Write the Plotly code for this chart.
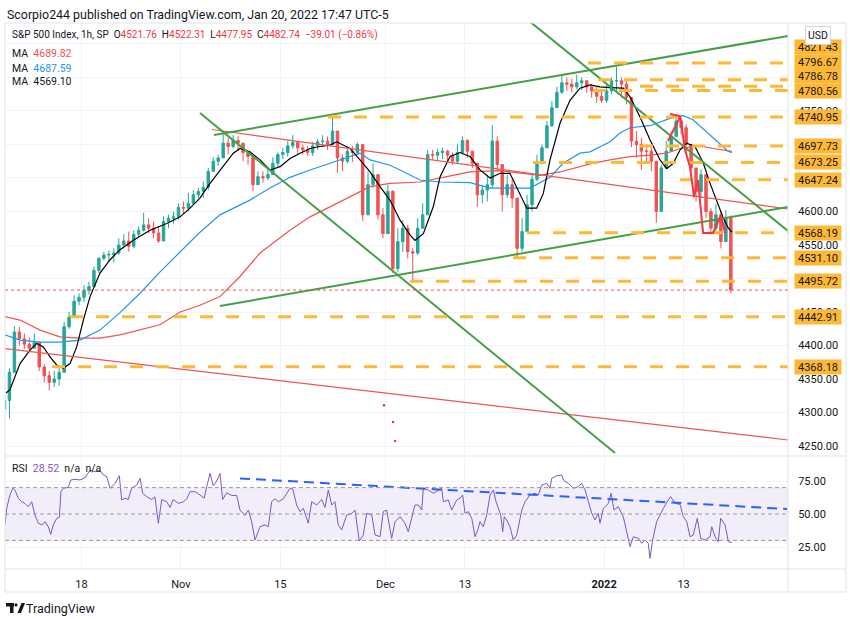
import plotly.graph_objects as go

# ---------------- data ----------------
oct_days = [6, 7, 8, 11, 12, 13, 14, 15, 18, 19, 20, 21, 22, 25, 26, 27, 28, 29]
nov_days = [1, 2, 3, 4, 5, 8, 9, 10, 11, 12, 15, 16, 17, 18, 19, 22, 23, 24, 26, 29, 30]
dec_days = [1, 2, 3, 6, 7, 8, 9, 10, 13, 14, 15, 16, 17, 20, 21, 22, 23, 27, 28, 29, 30, 31]
jan_days = [3, 4, 5, 6, 7, 10, 11, 12, 13, 14, 18, 19, 20]
short_sessions = ["2021-11-26"]          # 4 hourly bars, one candle

first_open = 4305
# two candles per session (one for the short session)
closes = [4318, 4360, 4420, 4410, 4402, 4396, 4405, 4368, 4355, 4345,
          4350, 4360, 4428, 4442, 4466, 4472, 4482, 4488, 4512, 4530,
          4535, 4536, 4538, 4550, 4556, 4548, 4566, 4572, 4580, 4575,
          4568, 4556, 4585, 4590, 4592, 4606, 4605, 4612, 4625, 4630,
          4636, 4660, 4675, 4680, 4702, 4697, 4706, 4702, 4688, 4682,
          4640, 4652, 4650, 4655, 4672, 4685, 4688, 4698, 4703, 4695,
          4692, 4688, 4698, 4704, 4705, 4700, 4720, 4680, 4675, 4690,
          4688, 4700, 4595, 4640, 4655, 4595, 4567, 4630, 4515,
          4555, 4575, 4540, 4538, 4575, 4595, 4685, 4684, 4688, 4690,
          4684, 4675, 4688, 4706, 4690, 4672, 4625, 4632, 4640, 4705,
          4670, 4625, 4640, 4620, 4545, 4570, 4610, 4648, 4675, 4695,
          4728, 4755, 4778, 4792, 4790, 4786, 4792, 4795, 4786, 4780,
          4772, 4766, 4780, 4795, 4795, 4790, 4770, 4705, 4700, 4690,
          4690, 4675, 4600, 4665, 4690, 4712, 4735, 4725, 4700, 4665,
          4630, 4655, 4600, 4575, 4595, 4555, 4590, 4482.74]
highs = [4335, 4366, 4429, 4428, 4418, 4412, 4418, 4400, 4372, 4362,
         4362, 4368, 4435, 4450, 4475, 4478, 4490, 4495, 4518, 4532,
         4540, 4542, 4545, 4560, 4566, 4570, 4572, 4578, 4598, 4590,
         4585, 4578, 4593, 4595, 4600, 4612, 4615, 4628, 4632, 4635,
         4645, 4665, 4681, 4685, 4718, 4710, 4714, 4712, 4702, 4690,
         4680, 4660, 4660, 4665, 4681, 4688, 4695, 4705, 4714, 4705,
         4700, 4698, 4704, 4708, 4714, 4712, 4742, 4712, 4685, 4697,
         4698, 4703, 4664, 4660, 4672, 4645, 4605, 4640, 4632,
         4575, 4587, 4580, 4545, 4590, 4612, 4692, 4692, 4694, 4695,
         4692, 4688, 4700, 4712, 4708, 4690, 4665, 4640, 4655, 4729,
         4712, 4665, 4655, 4648, 4585, 4590, 4625, 4655, 4685, 4700,
         4735, 4765, 4786, 4804, 4800, 4798, 4804, 4800, 4796, 4790,
         4786, 4780, 4790, 4800, 4816, 4800, 4796, 4770, 4720, 4710,
         4700, 4695, 4650, 4670, 4705, 4720, 4745, 4740, 4730, 4700,
         4665, 4663, 4655, 4605, 4611, 4600, 4602, 4594]
lows = [4300, 4291, 4360, 4400, 4395, 4390, 4395, 4362, 4345, 4333,
        4338, 4340, 4395, 4425, 4448, 4460, 4465, 4476, 4490, 4508,
        4527, 4525, 4524, 4535, 4545, 4540, 4545, 4562, 4570, 4568,
        4560, 4553, 4565, 4575, 4582, 4588, 4596, 4600, 4610, 4620,
        4620, 4632, 4662, 4668, 4681, 4685, 4695, 4690, 4675, 4670,
        4630, 4640, 4643, 4647, 4655, 4666, 4678, 4682, 4694, 4686,
        4685, 4683, 4683, 4692, 4696, 4692, 4705, 4658, 4660, 4672,
        4674, 4685, 4586, 4620, 4635, 4588, 4560, 4580, 4508,
        4510, 4540, 4530, 4493, 4535, 4580, 4660, 4677, 4676, 4678,
        4675, 4670, 4672, 4685, 4680, 4665, 4607, 4612, 4615, 4635,
        4660, 4600, 4620, 4605, 4531, 4540, 4575, 4600, 4645, 4670,
        4695, 4726, 4755, 4775, 4780, 4778, 4782, 4781, 4777, 4770,
        4762, 4762, 4762, 4775, 4780, 4770, 4760, 4696, 4680, 4662,
        4675, 4660, 4583, 4600, 4665, 4690, 4712, 4715, 4685, 4660,
        4615, 4620, 4590, 4568, 4570, 4545, 4555, 4477.95]

# moving averages: (hourly bar index, value)
ma_red = [(2, 4443), (12.7, 4438), (26.8, 4423), (40.8, 4413), (54.9, 4411), (69, 4411),
          (83.1, 4416), (97.2, 4423), (111.3, 4431), (125.4, 4450), (139.4, 4460),
          (153.5, 4473), (167.6, 4503), (181.7, 4538), (202.8, 4572), (216.9, 4592),
          (231, 4607), (245.1, 4622), (259.2, 4637), (273.2, 4642), (294.4, 4644),
          (313.2, 4652), (329.6, 4659), (350.7, 4661), (364.8, 4657), (378.9, 4654),
          (393, 4659), (407, 4667), (414.1, 4671), (428.2, 4677), (442.3, 4682),
          (456.3, 4684), (468.1, 4687), (477.5, 4694), (491.5, 4698), (500.9, 4694),
          (511.5, 4690), (514, 4689.82)]
ma_blue = [(2, 4416), (12.7, 4408), (26.8, 4405), (40.8, 4405), (54.9, 4408), (69, 4423),
           (83.1, 4449), (97.2, 4478), (111.3, 4510), (125.4, 4540), (139.4, 4569),
           (153.5, 4595), (174.6, 4617), (188.7, 4635), (202.8, 4651), (216.9, 4662),
           (231, 4672), (245.1, 4683), (252.1, 4687), (259.2, 4677), (273.2, 4669),
           (280.3, 4662), (294.4, 4647), (308.5, 4644), (329.6, 4643), (343.7, 4635),
           (371.8, 4635), (385.9, 4651), (395.1, 4672), (407, 4687), (414.1, 4689),
           (428.2, 4704), (435.2, 4717), (442.3, 4725), (456.3, 4728), (470.4, 4739),
           (479.6, 4743), (486.6, 4737), (498.6, 4714), (511.3, 4690), (514, 4687.59)]
ma_black = [(2.8, 4329), (5.6, 4334), (12.7, 4373), (19.7, 4393), (24.4, 4403), (29.1, 4398),
            (33.8, 4383), (38.5, 4371), (43.2, 4366), (47.9, 4373), (52.6, 4398), (57.3, 4438),
            (62, 4473), (69, 4508), (76.1, 4528), (83.1, 4543), (92.5, 4557), (104.2, 4572),
            (116, 4582), (125.4, 4592), (132.4, 4605), (139.4, 4620), (146.5, 4642),
            (155.8, 4667), (162.9, 4687), (167.6, 4694), (174.6, 4689), (181.7, 4677),
            (188.7, 4662), (195.8, 4667), (202.8, 4679), (209.9, 4687), (216.9, 4694),
            (223.9, 4697), (231, 4699), (235.7, 4704), (245.1, 4694), (252.1, 4677),
            (259.2, 4659), (266.2, 4637), (273.2, 4617), (280.3, 4587), (287.3, 4565),
            (290.8, 4557), (296.7, 4567), (303.7, 4607), (308.5, 4652), (315.5, 4682),
            (322.5, 4688), (329.6, 4682), (336.6, 4662), (343.7, 4650), (350.7, 4657),
            (357.7, 4657), (364.8, 4627), (369.5, 4605), (376.5, 4605), (381.2, 4627),
            (385.9, 4677), (393, 4732), (400, 4766), (407, 4784), (414.1, 4789),
            (421.1, 4786), (428.2, 4785), (437.5, 4784), (442.3, 4771), (449.3, 4741),
            (456.3, 4707), (463.4, 4677), (468.1, 4664), (472.7, 4672), (477.5, 4692),
            (482.2, 4702), (488, 4697), (493.9, 4672), (498.6, 4642), (503.3, 4617),
            (508, 4590), (511.5, 4575), (514, 4569.10)]

rsi = [(2.1, 41.7), (3.3, 54.3), (5.6, 64.4), (7.5, 69.5), (9.2, 68.0), (11.5, 61.9),
       (13.9, 59.3), (16.2, 58.0), (18.5, 55.5), (20.9, 59.3), (23.2, 49.2), (25.6, 43.0),
       (28.0, 41.7), (30.3, 44.2), (32.6, 40.4), (34.3, 34.6), (36.1, 41.7), (38.5, 46.7),
       (40.4, 47.5), (41.5, 66.9), (43.2, 69.5), (46.7, 70.2), (48.4, 75.8), (51.4, 76.3),
       (54.9, 75.8), (58.5, 77.5), (62.0, 83.3), (65.5, 82.0), (69.0, 83.0), (71.3, 79.5),
       (73.7, 78.4), (76.1, 69.5), (79.6, 73.2), (82.6, 79.0), (84.3, 60.6), (86.6, 62.0),
       (88.9, 61.0), (91.3, 69.5), (94.9, 72.0), (97.2, 77.0), (99.1, 65.7), (101.9, 63.1),
       (105.4, 61.0), (107.7, 63.0), (110.1, 43.0), (112.5, 61.0), (116.0, 59.3), (118.3, 55.0),
       (120.6, 61.0), (124.2, 58.0), (127.7, 59.3), (130.1, 61.5), (132.4, 66.9), (135.9, 66.9),
       (139.4, 64.4), (142.3, 62.0), (144.2, 70.7), (146.5, 80.8), (148.8, 71.4), (151.2, 75.0),
       (153.5, 80.8), (155.4, 61.0), (158.2, 66.0), (161.8, 64.0), (165.3, 64.0), (167.6, 53.0),
       (171.1, 49.0), (173.5, 53.0), (175.8, 44.2), (178.2, 30.3), (181.7, 40.4), (185.2, 41.7),
       (187.5, 40.4), (189.9, 59.3), (192.3, 61.5), (194.6, 59.3), (198.1, 61.5), (200.5, 65.2),
       (202.8, 69.5), (204.7, 69.0), (207.5, 56.8), (209.9, 51.8), (212.2, 54.3), (215.7, 43.0),
       (218.1, 59.3), (221.6, 56.8), (225.1, 61.0), (227.5, 55.0), (229.8, 68.2), (232.2, 56.8),
       (234.5, 59.3), (236.8, 41.7), (239.2, 37.9), (242.7, 49.2), (246.3, 50.5), (248.6, 53.0),
       (251.6, 29.5), (254.4, 34.1), (256.8, 50.5), (260.4, 49.2), (262.7, 34.1), (266.2, 32.9),
       (268.5, 51.8), (270.9, 53.0), (274.4, 31.6), (276.8, 44.2), (280.3, 48.0), (283.8, 43.0),
       (286.1, 36.6), (289.6, 51.8), (290.8, 56.8), (293.2, 56.8), (295.6, 53.0), (296.7, 69.5),
       (300.2, 68.2), (303.7, 65.7), (307.3, 68.2), (309.6, 69.5), (310.8, 59.3), (314.3, 60.6),
       (316.7, 53.0), (320.2, 60.6), (322.5, 62.0), (324.4, 64.4), (326.1, 50.5), (328.4, 51.8),
       (330.8, 46.7), (333.1, 32.8), (335.4, 39.1), (336.6, 44.2), (338.9, 40.4), (341.3, 49.2),
       (343.7, 64.4), (346.0, 68.2), (347.9, 59.3), (349.5, 54.3), (351.2, 49.2), (352.6, 36.6),
       (353.7, 48.0), (355.4, 45.5), (357.7, 40.4), (360.1, 30.3), (362.5, 34.1), (366.0, 53.0),
       (368.3, 59.3), (371.8, 64.4), (375.4, 65.7), (377.7, 64.4), (380.1, 72.0), (383.6, 73.2),
       (385.9, 69.5), (387.1, 77.0), (390.6, 79.0), (394.2, 79.5), (395.3, 75.8), (398.8, 73.2),
       (402.3, 69.5), (405.8, 70.7), (408.2, 73.2), (410.6, 68.2), (412.9, 59.3), (415.3, 50.5),
       (417.6, 45.5), (419.9, 50.5), (421.1, 43.0), (423.5, 54.3), (427.0, 58.0), (428.9, 65.7),
       (431.0, 53.0), (434.0, 55.5), (437.5, 48.0), (439.9, 36.6), (442.3, 25.3), (444.6, 32.8),
       (448.1, 31.6), (450.5, 27.8), (452.8, 30.3), (455.1, 27.8), (456.3, 16.4), (458.2, 30.3),
       (461.0, 44.2), (463.4, 49.2), (465.7, 54.3), (469.2, 60.6), (470.9, 63.1), (474.0, 58.0),
       (477.5, 57.3), (479.8, 48.0), (482.2, 44.2), (484.5, 32.8), (486.8, 34.1), (489.6, 46.7),
       (492.0, 31.6), (495.1, 30.3), (498.6, 32.8), (499.8, 40.4), (502.1, 32.8), (504.4, 29.0),
       (506.1, 46.7), (509.2, 41.7), (511.5, 29.0), (514.0, 28.52)]

# legend values
last_ohlc = [4521.76, 4522.31, 4477.95, 4482.74]
last_change = [-39.01, -0.86]
ma_last = [4689.82, 4687.59, 4569.10]
rsi_last = 28.52

# horizontal levels: (price, start bar index)
levels = [(4821.43, 412.7), (4796.67, 419.7), (4786.78, 449.3), (4780.56, 416.2),
          (4740.95, 229.6), (4697.73, 449.3), (4673.25, 373.9), (4647.24, 477.5),
          (4568.19, 369.7), (4531.10, 359.9), (4495.72, 287.3), (4442.91, 47.9),
          (4368.18, 35.2)]

# drawings (bar index, price)
green_lines = [[(149.3, 4714.2), (553.5, 4861.9)], [(153.5, 4459.0), (553.5, 4606.7)],
               [(139.4, 4747.0), (431.7, 4239.6)], [(372.5, 4882.2), (553.5, 4570.9)]]
red_lines = [[(147.9, 4722.4), (553.5, 4603.7)], [(-1.4, 4396.3), (553.5, 4259.0)]]
red_paths = [[(470.4, 4745.5), (477.5, 4742.5), (481.0, 4691.8), (484.5, 4666.4),
              (487.3, 4621.6), (490.1, 4647.0), (493.7, 4567.9), (500.7, 4567.9),
              (506.3, 4594.8), (509.2, 4567.9)],
             [(469.0, 4705.2), (477.5, 4741.0)]]
red_dots = [(269.0, 4311), (275.4, 4285.8), (276.8, 4257.5)]
rsi_trend = [(167.6, 77.0), (552.8, 53.8)]

tick_dates = ["2021-10-18", "2021-11-01", "2021-11-15", "2021-12-01", "2021-12-13",
              "2022-01-03", "2022-01-13"]
tick_text = ["18", "Nov", "15", "Dec", "13", "<b>2022</b>", "13"]
price_ticks = list(range(4250, 4851, 50))
hidden_price_ticks = [4500, 4650, 4700, 4800, 4850]   # covered by level labels

# ---------------- build ----------------
UP, DOWN = "#26a69a", "#ef5350"
ORANGE = "#FFB833"
GREEN = "#43A047"
TXT = "#131722"
GRID = "#F0F3FA"
FONT = "Roboto, 'Noto Sans', sans-serif"

sessions = ([f"2021-10-{d:02d}" for d in oct_days] + [f"2021-11-{d:02d}" for d in nov_days] +
            [f"2021-12-{d:02d}" for d in dec_days] + [f"2022-01-{d:02d}" for d in jan_days])
start = {}
cx = []
s = 0
for day in sessions:
    start[day] = s
    if day in short_sessions:
        cx.append(s + 2.0)
        s += 4
    else:
        cx += [s + 1.75, s + 5.25]
        s += 7

opens = [first_open] + closes[:-1]
hi = [max(h, o, c) for h, o, c in zip(highs, opens, closes)]
lo = [min(l, o, c) for l, o, c in zip(lows, opens, closes)]

W, H = 850, 619
ML, MR, MT, MB = 5, 62, 23, 50
PW, PH = W - ML - MR, H - MT - MB


def PX(x):
    return (x - ML) / PW


def PY(y):
    return (H - MB - y) / PH


x_range = [2.11, 553.5]
y_range = [4236.6, 4881.3]
r_range = [8.33, 93.2]
price_dom = [PY(455), 1.0]
rsi_dom = [0.0, PY(457)]

fig = go.Figure()
fig.add_trace(go.Candlestick(
    x=cx, open=opens, high=hi, low=lo, close=closes, xaxis="x", yaxis="y",
    increasing=dict(line=dict(color=UP, width=1), fillcolor=UP),
    decreasing=dict(line=dict(color=DOWN, width=1), fillcolor=DOWN),
    whiskerwidth=0, hoverinfo="skip"))


def line_trace(pts, color, width, dash=None, xa="x", ya="y"):
    return go.Scatter(x=[p[0] for p in pts], y=[p[1] for p in pts], mode="lines",
                      line=dict(color=color, width=width, dash=dash), xaxis=xa, yaxis=ya,
                      hoverinfo="skip")


fig.add_trace(line_trace(ma_red, "#EF5350", 1.2))
fig.add_trace(line_trace(ma_blue, "#2196F3", 1.2))
fig.add_trace(line_trace(ma_black, "#000000", 1.2))

for pts in red_lines:
    fig.add_trace(line_trace(pts, "#F05350", 1.2))
for pts in green_lines:
    fig.add_trace(line_trace(pts, GREEN, 2))
for lv, x0 in levels:
    fig.add_trace(line_trace([(x0, lv), (x_range[1], lv)], ORANGE, 3, "13px,13px"))
for pts in red_paths:
    fig.add_trace(line_trace(pts, "#F23645", 2))
fig.add_trace(go.Scatter(x=[p[0] for p in red_dots], y=[p[1] for p in red_dots], mode="markers",
                         marker=dict(color="#F23645", size=2.5), hoverinfo="skip"))

# RSI pane
fig.add_trace(line_trace(rsi, "#7E57C2", 1, xa="x2", ya="y2"))
fig.add_trace(line_trace(rsi_trend, "#2962FF", 2, "10px,6px", xa="x2", ya="y2"))

tickvals = [start[d] for d in tick_dates]

shapes = [
    dict(type="rect", xref="x2 domain", yref="y2", x0=0, x1=1, y0=30, y1=70,
         fillcolor="rgba(126,87,194,0.10)", line=dict(width=0), layer="below"),
]
for v in (70, 50, 30):
    shapes.append(dict(type="line", xref="x2 domain", yref="y2", x0=0, x1=1, y0=v, y1=v,
                       line=dict(color="#9598A1", width=1, dash="4px,3px")))
shapes.append(dict(type="line", xref="x domain", yref="y", x0=0, x1=1,
                   y0=last_ohlc[3], y1=last_ohlc[3],
                   line=dict(color="#ef5350", width=1, dash="dot")))
FR = "#E0E3EB"
shapes += [
    dict(type="rect", xref="paper", yref="paper", x0=PX(5), x1=PX(846), y0=PY(592), y1=PY(23),
         line=dict(color=FR, width=1)),
    dict(type="line", xref="paper", yref="paper", x0=PX(5), x1=PX(846), y0=PY(456), y1=PY(456),
         line=dict(color=FR, width=1)),
    dict(type="line", xref="paper", yref="paper", x0=PX(5), x1=PX(846), y0=PY(569), y1=PY(569),
         line=dict(color=FR, width=1)),
    dict(type="line", xref="paper", yref="paper", x0=PX(788), x1=PX(788), y0=PY(592), y1=PY(23),
         line=dict(color=FR, width=1)),
]
# TradingView logo mark
LOGO = TXT
shapes += [
    dict(type="rect", xref="paper", yref="paper", x0=PX(6), x1=PX(14), y0=PY(606.5), y1=PY(603),
         fillcolor=LOGO, line=dict(width=0)),
    dict(type="rect", xref="paper", yref="paper", x0=PX(10), x1=PX(13.5), y0=PY(613), y1=PY(603),
         fillcolor=LOGO, line=dict(width=0)),
    dict(type="circle", xref="paper", yref="paper", x0=PX(14.5), x1=PX(17.5), y0=PY(606.5),
         y1=PY(603.3), fillcolor=LOGO, line=dict(width=0)),
    dict(type="path", xref="paper", yref="paper",
         path=f"M {PX(17.5)},{PY(613)} L {PX(21.5)},{PY(603)} L {PX(25)},{PY(603)} "
              f"L {PX(21)},{PY(613)} Z", fillcolor=LOGO, line=dict(width=0)),
]

ann = []


def text(x, y, t, size=11, color=TXT, anchor="left"):
    ann.append(dict(xref="paper", yref="paper", x=PX(x), y=PY(y), text=t, showarrow=False,
                    xanchor=anchor, yanchor="middle", font=dict(family=FONT, size=size, color=color)))


RED_T = "#F23645"
NB = "\u00a0"
text(5, 14, "Scorpio244 published on TradingView.com, Jan 20, 2022 17:47 UTC-5", size=12.4)
o, h, l, c = last_ohlc
legend = (f"S&P 500 Index, 1h, SP{NB}{NB}O<span style='color:{RED_T}'>{o:.2f}</span>{NB}{NB}"
          f"H<span style='color:{RED_T}'>{h:.2f}</span>{NB}{NB}"
          f"L<span style='color:{RED_T}'>{l:.2f}</span>{NB}{NB}"
          f"C<span style='color:{RED_T}'>{c:.2f}</span>{NB}{NB}"
          f"<span style='color:{RED_T}'>\u2212{abs(last_change[0]):.2f} (\u2212{abs(last_change[1]):.2f}%)</span>")
text(10, 35, legend, size=10.0)
for yy, val, col in zip((53, 68, 82), ma_last, ("#EF5350", "#2196F3", TXT)):
    text(10, yy, f"MA{NB}{NB}<span style='color:{col}'>{val:.2f}</span>", size=10.5)
text(10, 468, f"RSI{NB}{NB}<span style='color:#7E57C2'>{rsi_last:.2f}</span>{NB}{NB}n/a{NB}{NB}n/a",
     size=10.5)
text(24, 608, "TradingView", size=12.5)

# level labels on the price axis, stacked upward when they collide
pane_top, pane_bot = 23, 455
ppp = (pane_bot - pane_top) / (y_range[1] - y_range[0])
prev = None
for lv, _ in sorted(levels):
    true_px = pane_top + (y_range[1] - lv) * ppp
    lab = true_px if prev is None else min(true_px, prev - 14.5)
    prev = lab
    ann.append(dict(xref="paper", yref="y", x=PX(794), y=lv, yshift=true_px - lab,
                    text=f"{lv:.2f}", showarrow=False, xanchor="left", yanchor="middle",
                    bgcolor=ORANGE, width=44, height=12, borderpad=1, align="center",
                    font=dict(family=FONT, size=11, color=TXT)))
ann.append(dict(xref="paper", yref="paper", x=PX(818), y=PY(35), text="USD", showarrow=False,
                xanchor="center", yanchor="middle", bgcolor="white", bordercolor="#D1D4DC",
                borderwidth=1, borderpad=2, font=dict(family=FONT, size=10.5, color=TXT)))

axis_font = dict(family=FONT, size=11, color=TXT)
fig.update_layout(
    width=W, height=H, autosize=False,
    margin=dict(l=ML, r=MR, t=MT, b=MB),
    paper_bgcolor="white", plot_bgcolor="white",
    showlegend=False, hovermode=False,
    font=dict(family=FONT, color=TXT),
    shapes=shapes, annotations=ann,
    xaxis=dict(domain=[0, 1], anchor="y", range=x_range, rangeslider=dict(visible=False),
               tickvals=tickvals, showticklabels=False, showgrid=True, gridcolor=GRID,
               zeroline=False, showline=False, ticks=""),
    xaxis2=dict(domain=[0, 1], anchor="y2", range=x_range, matches="x",
                tickvals=tickvals, ticktext=tick_text, showgrid=True, gridcolor=GRID,
                zeroline=False, showline=False, ticks="outside", ticklen=5,
                tickcolor="rgba(0,0,0,0)", tickfont=axis_font),
    yaxis=dict(domain=price_dom, anchor="x", side="right", range=y_range,
               tickvals=price_ticks,
               ticktext=["" if v in hidden_price_ticks else f"{v:.2f}" for v in price_ticks],
               showgrid=True, gridcolor=GRID, zeroline=False, showline=False,
               ticks="outside", ticklen=7, tickcolor="rgba(0,0,0,0)", tickfont=axis_font),
    yaxis2=dict(domain=rsi_dom, anchor="x2", side="right", range=r_range,
                tickvals=[25, 50, 75], ticktext=["25.00", "50.00", "75.00"],
                showgrid=True, gridcolor=GRID, zeroline=False, showline=False,
                ticks="outside", ticklen=7, tickcolor="rgba(0,0,0,0)", tickfont=axis_font),
)

fig.write_html("out.html", config={"displayModeBar": False},
               post_script="document.body.style.margin='0';document.body.style.overflow='hidden';")
